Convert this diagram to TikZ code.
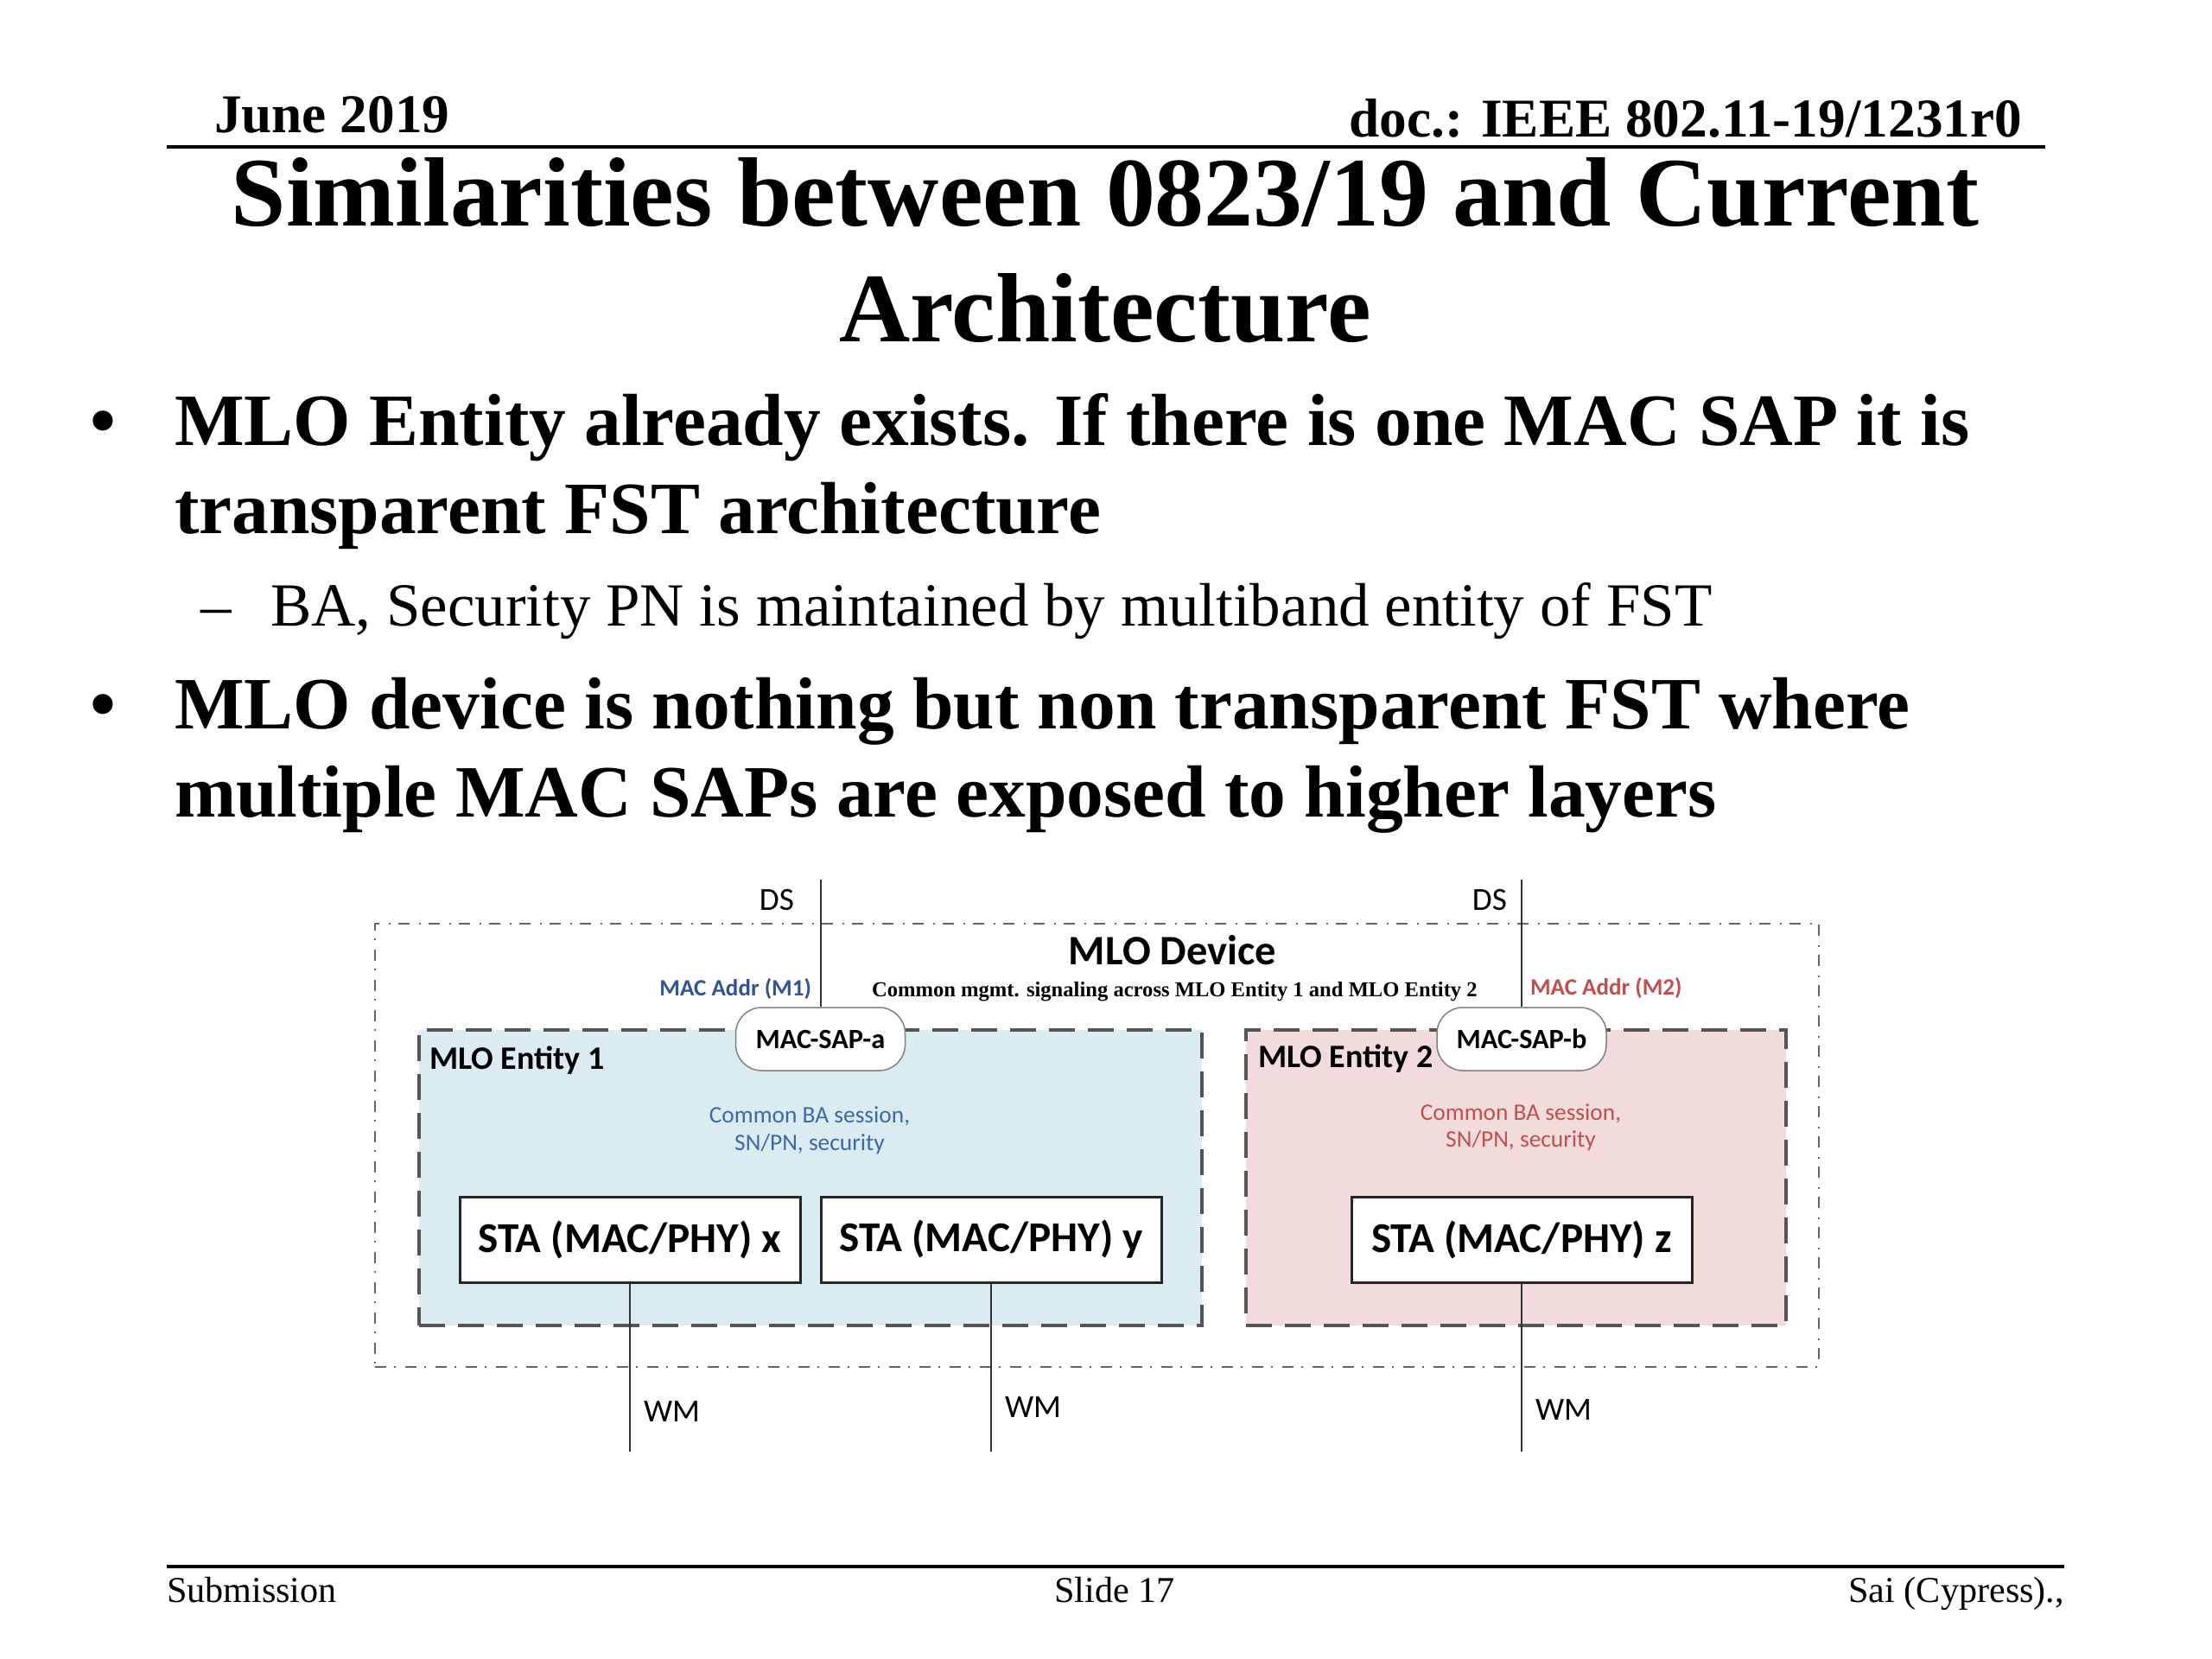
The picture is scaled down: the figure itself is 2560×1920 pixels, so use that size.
\documentclass[tikz,border=0pt]{standalone}
\usepackage{fontspec}
\setmainfont{Liberation Serif}
\newfontfamily\calfont{Carlito}
\definecolor{entblue}{HTML}{DAEBF2}
\definecolor{entpink}{HTML}{F1DBDB}
\definecolor{addrblue}{HTML}{2F5597}
\definecolor{bablue}{HTML}{3C6AA8}
\definecolor{txtred}{HTML}{C0504D}
\definecolor{boxgray}{HTML}{555555}
\definecolor{outergray}{HTML}{666666}
\begin{document}
\begin{tikzpicture}[x=0.1mm,y=-0.1mm,
  txt/.style={inner sep=0pt, outer sep=0pt},
  hdr/.style={txt, font=\fontsize{18}{20}\selectfont\bfseries},
  ttl/.style={txt, font=\fontsize{32.4}{36}\selectfont\bfseries},
  bul/.style={txt, font=\fontsize{24.3}{28}\selectfont\bfseries},
  subbul/.style={txt, font=\fontsize{20.2}{24}\selectfont},
  foot/.style={txt, font=\fontsize{12}{14}\selectfont},
  outerbox/.style={draw=outergray, line width=0.25mm, dash pattern=on 1.3mm off 0.9mm on 0.2mm off 1.1mm, minimum width=167.1mm, minimum height=51.3mm, inner sep=0pt},
  entbox/.style={draw=boxgray, line width=0.38mm, dash pattern=on 3.0mm off 1.5mm, minimum height=34.2mm, inner sep=0pt},
  stabox/.style={draw=black!85, fill=white, line width=0.3mm, minimum width=39.4mm, minimum height=9.9mm, inner sep=0pt, font=\calfont\fontsize{14}{16}\selectfont\bfseries},
  sapnode/.style={draw=black!50, fill=white, line width=0.15mm, rounded corners=3mm, minimum width=19.6mm, minimum height=7.3mm, inner sep=0pt, font=\calfont\fontsize{9.2}{11}\selectfont\bfseries},
  wire/.style={draw=black!80, line width=0.2mm},
  dslbl/.style={txt, font=\calfont\fontsize{10.6}{12}\selectfont},
  entlbl/.style={txt, font=\calfont\fontsize{10.8}{12}\selectfont\bfseries},
  balbl/.style={txt, font=\calfont\fontsize{7.8}{9}\selectfont},
  addrlbl/.style={txt, font=\calfont\fontsize{7.7}{9}\selectfont\bfseries}
]
\useasboundingbox[fill=white] (0,0) rectangle (2560,1920);

% header
\node[hdr, anchor=base west] (date) at (248,153) {June 2019};
\node[hdr, anchor=base east] (doc) at (2340,158) {doc.: IEEE 802.11-19/1231r0};
\coordinate (hl) at (193,170);
\coordinate (hr) at (2367,170);
\draw[line width=0.4mm] (hl) -- (hr);

% title
\node[ttl, anchor=base] (t1) at (1279,261) {Similarities between 0823/19 and Current};
\node[ttl, anchor=base] (t2) at (1279,395) {Architecture};

% bullets
\node[bul, anchor=base west] (b1dot) at (105,515) {•};
\node[bul, anchor=base west] (b1l1) at (202,515) {MLO Entity already exists. If there is one MAC SAP it is};
\node[bul, anchor=base west] (b1l2) at (202,617) {transparent FST architecture};
\node[subbul, anchor=base west] (s1dash) at (232,724) {–};
\node[subbul, anchor=base west] (s1) at (313,724) {BA, Security PN is maintained by multiband entity of FST};
\node[bul, anchor=base west] (b2dot) at (105,843) {•};
\node[bul, anchor=base west] (b2l1) at (202,843) {MLO device is nothing but non transparent FST where};
\node[bul, anchor=base west] (b2l2) at (202,945) {multiple MAC SAPs are exposed to higher layers};

% diagram containers
\node[outerbox] (outer) at (1269.5,1325.5) {};
\node[entbox, fill=entblue, minimum width=90.6mm] (ent1) at (938,1363) {};
\node[entbox, fill=entpink, minimum width=62.5mm] (ent2) at (1754.5,1363) {};

% diagram texts
\node[txt, anchor=base, font=\calfont\fontsize{13.8}{15}\selectfont\bfseries] (devlbl) at (1357,1116) {MLO Device};
\node[txt, anchor=base west, font=\fontsize{7}{8}\selectfont\bfseries] (mgmt) at (1009,1153) {Common mgmt. signaling across MLO Entity 1 and MLO Entity 2};
\node[addrlbl, text=addrblue, anchor=base east] (m1) at (939,1152) {MAC Addr (M1)};
\node[addrlbl, text=txtred, anchor=base west] (m2) at (1771,1151) {MAC Addr (M2)};
\node[entlbl, anchor=base west] (e1lbl) at (497,1237) {MLO Entity 1};
\node[entlbl, anchor=base west] (e2lbl) at (1456,1235) {MLO Entity 2};
\node[balbl, text=bablue, anchor=base] (ba1a) at (937,1299) {Common BA session,};
\node[balbl, text=bablue, anchor=base] (ba1b) at (937,1331) {SN/PN, security};
\node[balbl, text=txtred, anchor=base] (ba2a) at (1760,1296) {Common BA session,};
\node[balbl, text=txtred, anchor=base] (ba2b) at (1760,1327) {SN/PN, security};

% STA boxes
\node[stabox] (stax) at (729,1434.5) {STA (MAC/PHY) x};
\node[stabox] (stay) at (1147,1434.5) {STA (MAC/PHY) y};
\node[stabox] (staz) at (1761,1434.5) {STA (MAC/PHY) z};

% SAP nodes
\node[sapnode] (sapa) at (949.5,1202.5) {MAC-SAP-a};
\node[sapnode] (sapb) at (1761,1202.5) {MAC-SAP-b};

% DS connectors
\coordinate (dsa) at (949.5,1018);
\coordinate (dsb) at (1761,1018);
\draw[wire] (dsa) -- (sapa.north);
\draw[wire] (dsb) -- (sapb.north);
\node[dslbl, anchor=base east] (dsalbl) at (919,1053) {DS};
\node[dslbl, anchor=base east] (dsblbl) at (1744,1053) {DS};

% WM connectors
\coordinate (wmx) at (729,1680);
\coordinate (wmy) at (1147,1680);
\coordinate (wmz) at (1761,1680);
\draw[wire] (stax.south) -- (wmx);
\draw[wire] (stay.south) -- (wmy);
\draw[wire] (staz.south) -- (wmz);
\node[dslbl, anchor=base west] (wmxl) at (745,1645) {WM};
\node[dslbl, anchor=base west] (wmyl) at (1163,1640) {WM};
\node[dslbl, anchor=base west] (wmzl) at (1777,1643) {WM};

% footer
\coordinate (fl) at (193,1813);
\coordinate (fr) at (2389,1813);
\draw[line width=0.4mm] (fl) -- (fr);
\node[foot, anchor=base west] (sub) at (193,1854) {Submission};
\node[foot, anchor=base] (slide) at (1290,1854) {Slide 17};
\node[foot, anchor=base east] (auth) at (2389,1854) {Sai (Cypress).,};
\end{tikzpicture}
\end{document}
